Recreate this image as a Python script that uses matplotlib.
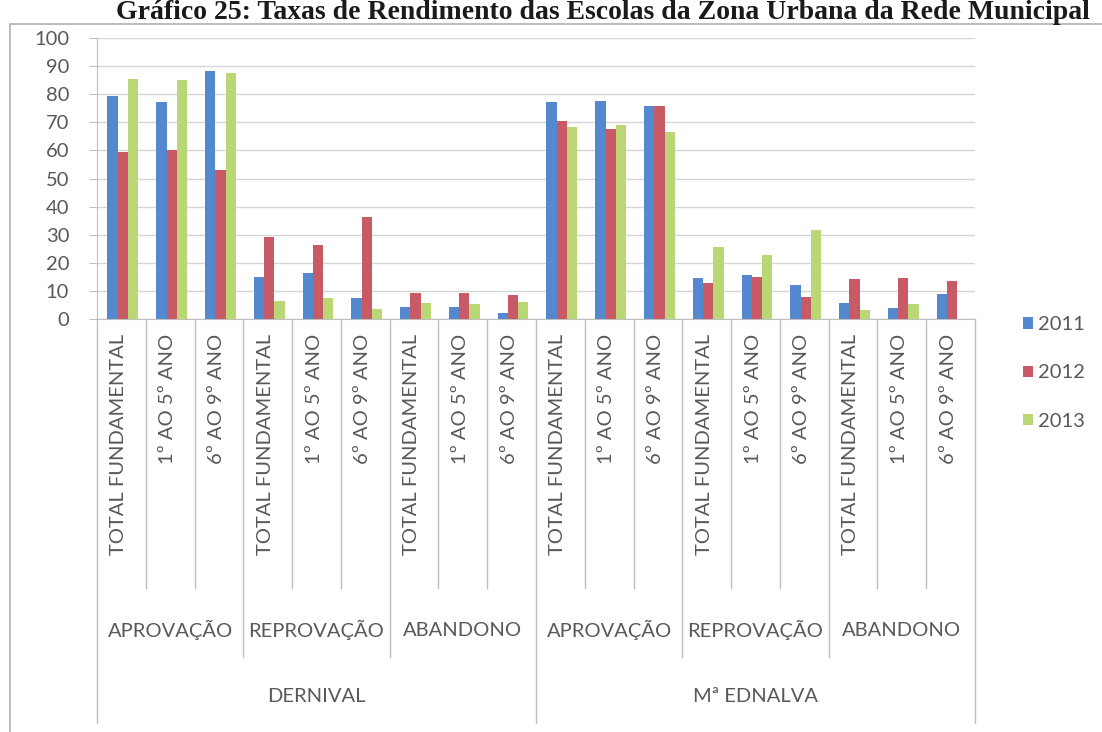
import matplotlib
matplotlib.use("Agg")
import matplotlib.pyplot as plt
import numpy as np

plt.rcParams["font.family"] = ["Lato", "DejaVu Sans"]

schools = ["DERNIVAL", "Mª EDNALVA"]
indicators = ["APROVAÇÃO", "REPROVAÇÃO", "ABANDONO"]
levels = ["TOTAL FUNDAMENTAL", "1º AO 5º ANO", "6º AO 9º ANO"]
years = ["2011", "2012", "2013"]

# DERNIVAL (aprovação, reprovação, abandono) then Mª EDNALVA, three levels each
rate_2011 = [79.5, 77.3, 88.3, 14.8, 16.4, 7.4, 4.1, 4.3, 2.3,
             77.3, 77.7, 75.7, 14.6, 15.5, 12.2, 5.6, 3.8, 9.0]
rate_2012 = [59.4, 60.2, 53.0, 29.3, 26.3, 36.3, 9.2, 9.4, 8.6,
             70.4, 67.5, 75.7, 12.8, 14.8, 7.8, 14.3, 14.6, 13.7]
rate_2013 = [85.4, 85.0, 87.7, 6.5, 7.4, 3.5, 5.6, 5.3, 6.2,
             68.3, 68.9, 66.5, 25.7, 22.7, 31.5, 3.2, 5.3, 0.0]

colors = ["#5589cf", "#c85a66", "#b9d774"]
text_color = "#595959"
line_color = "#bfbfbf"

W, H = 1102, 732
fig = plt.figure(figsize=(W / 100, H / 100), dpi=100)

# outer chart frame
frame = plt.Rectangle((10 / W, -0.1), 1.2, (H - 24) / H + 0.1, transform=fig.transFigure,
                      fill=False, edgecolor="#b0b0b0", linewidth=1.2)
fig.patches.append(frame)

ax_left, ax_right, ax_top, ax_bottom = 97, 975, 38, 319
ax = fig.add_axes([ax_left / W, (H - ax_bottom) / H,
                   (ax_right - ax_left) / W, (ax_bottom - ax_top) / H])

n = len(rate_2011)
x = np.arange(n)
bw = 0.21
for k, (vals, col, yr) in enumerate(zip([rate_2011, rate_2012, rate_2013], colors, years)):
    ax.bar(x + (k - 1) * bw + 0.03, vals, width=bw, color=col, label=yr, zorder=3)

ax.set_xlim(-0.5, n - 0.5)
ax.set_ylim(0, 100)
ax.set_yticks(range(0, 101, 10))
ax.yaxis.grid(True, color="#d6d6d6", linewidth=1.0, zorder=0)
ax.set_axisbelow(True)
for s in ["top", "right"]:
    ax.spines[s].set_visible(False)
ax.spines["left"].set_color(line_color)
ax.spines["bottom"].set_color(line_color)
ax.tick_params(axis="y", direction="out", length=6, color=line_color,
               labelsize=14.5, labelcolor=text_color, pad=14)
ax.set_xticks([])

# hierarchical category axis
ah = ax_bottom - ax_top
tr = ax.get_xaxis_transform()
def yfrac(py):
    return (ax_bottom - py) / ah

for i in range(n + 1):
    xb = i - 0.5
    if i % 9 == 0:
        yend = 723
    elif i % 3 == 0:
        yend = 657
    else:
        yend = 588
    ax.plot([xb, xb], [0, yfrac(yend)], transform=tr, color=line_color,
            linewidth=1.0, clip_on=False)

for i in range(n):
    ax.text(i - 0.05, yfrac(334), levels[i % 3], transform=tr, rotation=90,
            ha="center", va="top", fontsize=14.5, color=text_color)

for g in range(6):
    ax.text(g * 3 + 1, yfrac(630), indicators[g % 3], transform=tr,
            ha="center", va="center", fontsize=14.5, color=text_color)

for s, name in enumerate(schools):
    ax.text(s * 9 + 4, yfrac(697), name, transform=tr,
            ha="center", va="center", fontsize=14.5, color=text_color)

leg = ax.legend(loc="center left", bbox_to_anchor=(1005 / W, (H - 373) / H),
                bbox_transform=fig.transFigure, frameon=False, fontsize=14.5,
                handlelength=0.5, handleheight=0.5, handletextpad=0.25,
                labelspacing=1.55, labelcolor=text_color)

fig.text(0.547, 1 - 19 / H,
         "Gráfico 25: Taxas de Rendimento das Escolas da Zona Urbana da Rede Municipal",
         ha="center", va="baseline", fontsize=20, fontweight="bold",
         family="Liberation Serif", color="#1a1a1a")

fig.savefig("out.png", dpi=100, facecolor="white")
